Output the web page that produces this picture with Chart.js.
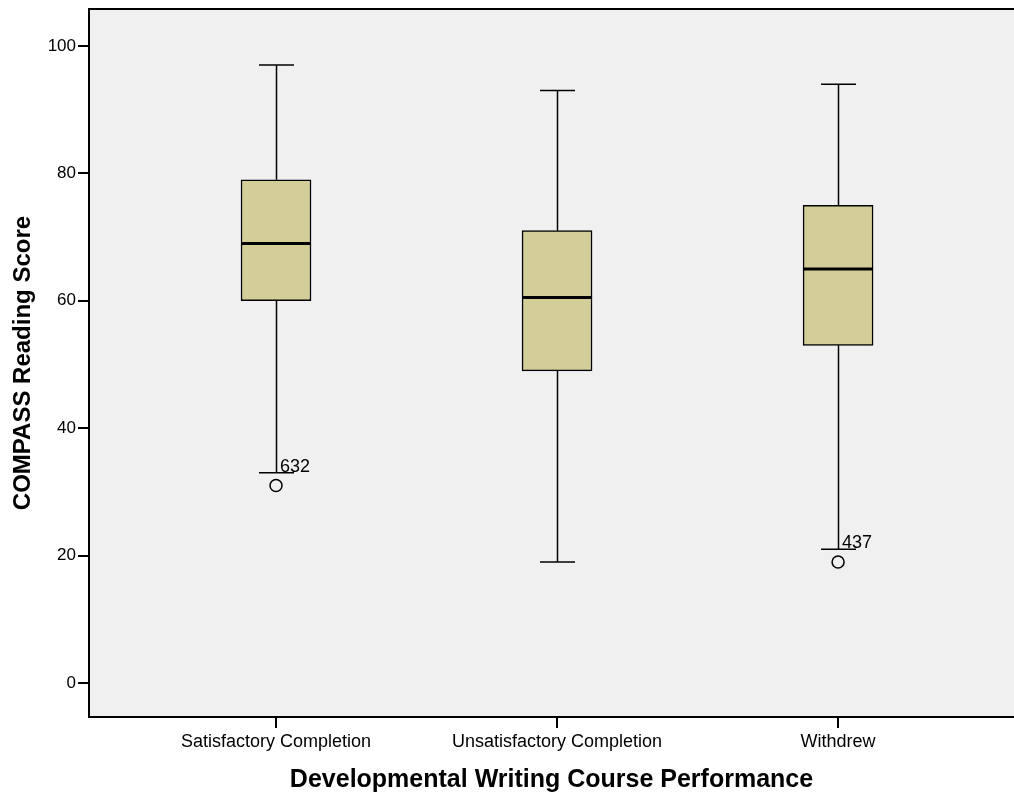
<!DOCTYPE html>
<html>
<head>
<meta charset="utf-8">
<script src="https://cdn.jsdelivr.net/npm/chart.js@4.4.0/dist/chart.umd.min.js"></script>
<style>
  html, body { margin: 0; padding: 0; background: #ffffff; }
  #wrap { width: 1014px; height: 795px; }
</style>
</head>
<body>
<div id="wrap"><canvas id="boxchart" width="1014" height="795"></canvas></div>
<script>
// box plot values
const categories = ["Satisfactory Completion", "Unsatisfactory Completion", "Withdrew"];
const whiskerLow = [33, 19, 21];
const q1 = [60, 49, 53];
const median = [69, 60.5, 65];
const q3 = [79, 71, 75];
const whiskerHigh = [97, 93, 94];
const outlierCategory = [0, 2];
const outlierValues = [31, 19];
const outlierLabels = ["632", "437"];
const yTicks = [0, 20, 40, 60, 80, 100];

const FONT = "'Liberation Sans', Arial, sans-serif";

const boxPlugin = {
    id: 'boxWhiskers',
    beforeDatasetsDraw(chart) {
        const ctx = chart.ctx;
        const xs = chart.scales.x, ys = chart.scales.y;
        ctx.save();
        ctx.strokeStyle = '#000';
        ctx.lineWidth = 1.5;
        for (let i = 0; i < categories.length; i++) {
            const cx = Math.round(xs.getPixelForValue(i + 1)) + 0.5;
            const lo = ys.getPixelForValue(whiskerLow[i]);
            const hi = ys.getPixelForValue(whiskerHigh[i]);
            ctx.beginPath();
            ctx.moveTo(cx, ys.getPixelForValue(q1[i]));
            ctx.lineTo(cx, lo);
            ctx.moveTo(cx, ys.getPixelForValue(q3[i]));
            ctx.lineTo(cx, hi);
            // caps
            ctx.moveTo(cx - 17.5, lo);
            ctx.lineTo(cx + 17.5, lo);
            ctx.moveTo(cx - 17.5, hi);
            ctx.lineTo(cx + 17.5, hi);
            ctx.stroke();
        }
        ctx.restore();
    },
    afterDatasetsDraw(chart) {
        const ctx = chart.ctx;
        const xs = chart.scales.x, ys = chart.scales.y;
        const area = chart.chartArea;
        ctx.save();
        // median lines
        ctx.strokeStyle = '#000';
        ctx.lineWidth = 3;
        for (let i = 0; i < categories.length; i++) {
            const cx = xs.getPixelForValue(i + 1);
            const my = ys.getPixelForValue(median[i]);
            ctx.beginPath();
            ctx.moveTo(cx - 35, my);
            ctx.lineTo(cx + 35, my);
            ctx.stroke();
        }
        // outlier case labels
        ctx.fillStyle = '#000';
        ctx.font = '18px ' + FONT;
        ctx.textAlign = 'left';
        ctx.textBaseline = 'bottom';
        for (let k = 0; k < outlierValues.length; k++) {
            const i = outlierCategory[k];
            const cx = xs.getPixelForValue(i + 1);
            const cy = ys.getPixelForValue(whiskerLow[i]);
            ctx.fillText(outlierLabels[k], cx + 4, cy + 3);
        }
        // top frame line
        ctx.lineWidth = 2;
        ctx.beginPath();
        ctx.moveTo(area.left - 1, area.top);
        ctx.lineTo(area.right, area.top);
        ctx.stroke();
        ctx.restore();
    }
};

const bgPlugin = {
    id: 'plotBg',
    beforeDraw(chart) {
        const a = chart.chartArea;
        chart.ctx.save();
        chart.ctx.fillStyle = '#f0f0f0';
        chart.ctx.fillRect(a.left, a.top, a.right - a.left, a.bottom - a.top);
        chart.ctx.restore();
    }
};

function initBoxChart() {
    var ctx = document.getElementById('boxchart').getContext('2d');
    var boxData = categories.map((c, i) => ({ x: i + 1, y: [q1[i], q3[i]] }));
    var outlierData = outlierValues.map((v, k) => ({ x: outlierCategory[k] + 1, y: v }));

    new Chart(ctx, {
        type: 'bar',
        data: {
            datasets: [{
                type: 'bar',
                data: boxData,
                backgroundColor: '#d3ce98',
                borderColor: '#000000',
                borderWidth: 1.5,
                borderSkipped: false,
                barThickness: 70
            }, {
                type: 'scatter',
                data: outlierData,
                pointStyle: 'circle',
                pointRadius: 6,
                pointBackgroundColor: 'rgba(0,0,0,0)',
                pointBorderColor: '#000000',
                pointBorderWidth: 1.5
            }]
        },
        options: {
            responsive: false,
            animation: false,
            layout: { autoPadding: false, padding: { top: 9, right: 0, left: 0, bottom: 0 } },
            plugins: {
                legend: { display: false },
                tooltip: { enabled: false }
            },
            scales: {
                x: {
                    type: 'linear',
                    offset: false,
                    min: 0.3345,
                    max: 3.626,
                    afterBuildTicks: function (scale) {
                        scale.ticks = categories.map((c, i) => ({ value: i + 1 }));
                    },
                    afterFit: function (scale) {
                        scale.height = 78;
                        scale.paddingLeft = 0;
                        scale.paddingRight = 0;
                    },
                    grid: { display: true, offset: false, drawOnChartArea: false, color: '#000', lineWidth: 2, tickLength: 11 },
                    border: { display: true, color: '#000', width: 2 },
                    ticks: {
                        color: '#000',
                        padding: 3,
                        maxRotation: 0,
                        autoSkip: false,
                        font: { family: FONT, size: 18 },
                        callback: function (value) { return categories[value - 1]; }
                    },
                    title: {
                        display: true,
                        text: 'Developmental Writing Course Performance',
                        color: '#000',
                        font: { family: FONT, size: 25, weight: 'bold' },
                        padding: { top: 8, bottom: 0 }
                    }
                },
                y: {
                    min: -5.34,
                    max: 105.8,
                    afterBuildTicks: function (scale) {
                        scale.ticks = yTicks.map(v => ({ value: v }));
                    },
                    afterFit: function (scale) {
                        scale.width = 89;
                        scale.paddingTop = 0;
                        scale.paddingBottom = 0;
                    },
                    grid: { display: true, drawOnChartArea: false, color: '#000', lineWidth: 2, tickLength: 11 },
                    border: { display: true, color: '#000', width: 2 },
                    ticks: {
                        color: '#000',
                        padding: 2,
                        font: { family: FONT, size: 17 }
                    },
                    title: {
                        display: true,
                        text: 'COMPASS Reading Score',
                        color: '#000',
                        font: { family: FONT, size: 24, weight: 'bold' },
                        padding: { top: 9, bottom: 8 }
                    }
                }
            }
        },
        plugins: [bgPlugin, boxPlugin]
    });
}
initBoxChart();
</script>
</body>
</html>
